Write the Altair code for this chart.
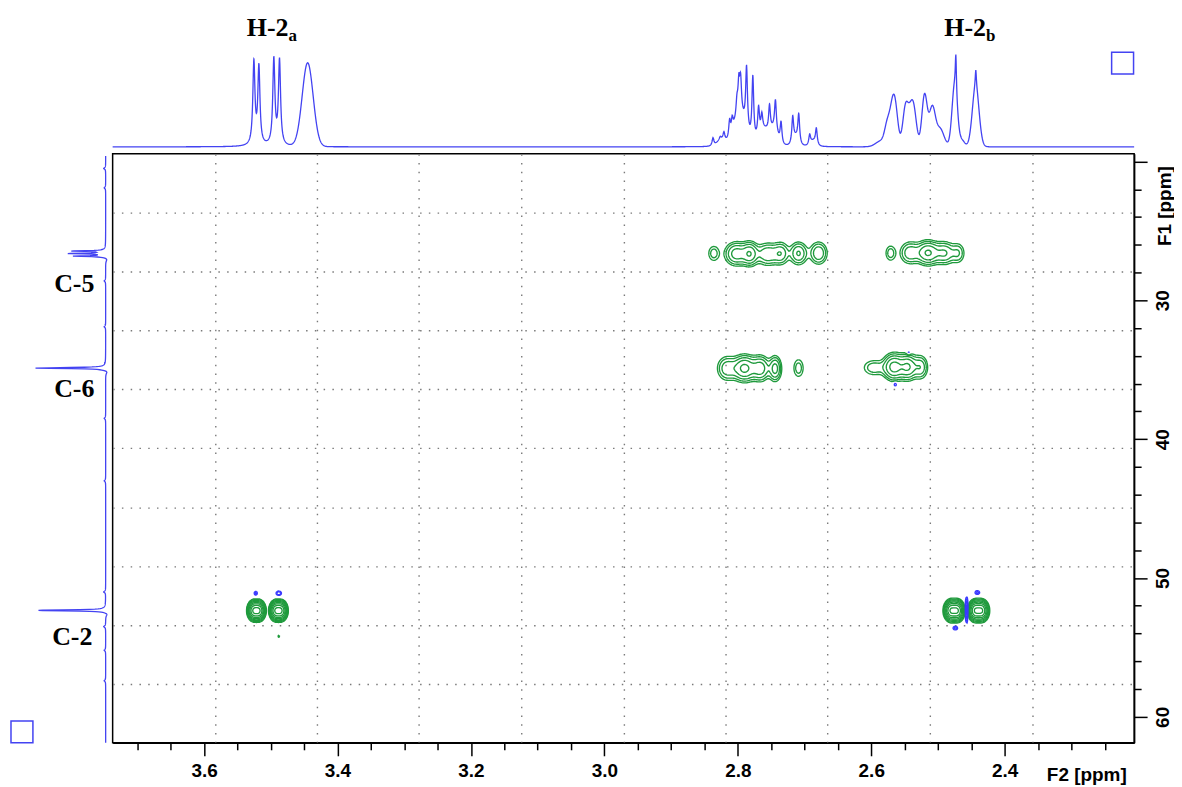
import numpy as np
import pandas as pd
import altair as alt

alt.data_transformers.disable_max_rows()

# ---------------- colours ----------------
SPEC_BLUE = "#4343f2"
POS_GREEN = "#1f9a3c"
NEG_BLUE = "#3a3aff"

# ---------------- axis ranges (ppm) ----------------
F2_LEFT, F2_RIGHT = 3.737, 2.206     # 1H (x), reversed
F1_TOP, F1_BOTTOM = 19.45, 61.87     # 13C (y), reversed

F2_MAJOR = [3.6, 3.4, 3.2, 3.0, 2.8, 2.6, 2.4]
F2_MINOR = [3.70, 3.65, 3.55, 3.50, 3.45, 3.35, 3.30, 3.25, 3.15, 3.10, 3.05,
            2.95, 2.90, 2.85, 2.75, 2.70, 2.65, 2.55, 2.50, 2.45, 2.35, 2.30, 2.25]
F1_MAJOR = [20, 30, 40, 50, 60]
F1_MINOR = [22, 24, 26, 28, 32, 34, 36, 38, 42, 44, 46, 48, 52, 54, 56, 58]

# ---------------- 1H projection (top) : peak list ----------------
TOP_LOR_PPM = [3.5253, 3.5178, 3.4954, 3.4869,
               2.8372, 2.8263, 2.8208, 2.8123, 2.8084, 2.8013, 2.7984, 2.7958, 2.7869,
               2.7775, 2.7689, 2.7640, 2.7525, 2.7436, 2.7352, 2.7177, 2.7087, 2.6923,
               2.6823, 2.4732, 2.4433]
TOP_LOR_H = [83, 78, 86, 85,
             8, 3, 8, 17, 13, 15, 30, 32, 62,
             64, 28, 16, 26, 30, 22, 26, 28, 10,
             16, 38, 17]
TOP_LOR_W = [0.0019, 0.0019, 0.0019, 0.0019,
             0.0016, 0.0016, 0.0016, 0.0016, 0.0016, 0.0016, 0.0016, 0.0016, 0.0016,
             0.0016, 0.0016, 0.0016, 0.0016, 0.0016, 0.0016, 0.0016, 0.0016, 0.0016,
             0.0016, 0.0010, 0.0010]
TOP_GAU_PPM = [3.4447, 2.8250, 2.7970, 2.7600, 2.7450, 2.7130, 2.6870,
               2.5850, 2.5758, 2.5683, 2.5634, 2.5485, 2.5410, 2.5360, 2.5201,
               2.5086, 2.4970, 2.4750, 2.4640, 2.4435]
TOP_GAU_H = [84, 6, 30, 16, 14, 8, 5,
             6, 20, 32, 30, 40, 22, 32, 52,
             38, 18, 60, 6, 60]
TOP_GAU_S = [0.0082, 0.006, 0.009, 0.008, 0.005, 0.004, 0.004,
             0.008, 0.004, 0.004, 0.004, 0.0042, 0.004, 0.0042, 0.004,
             0.0045, 0.006, 0.004, 0.004, 0.005]

# ---------------- 13C projection (left) : peak list ----------------
LEFT_PPM = [26.45, 26.63, 26.82, 34.88, 52.33,
            27.05, 35.15, 52.60,
            20.5, 21.9, 28.6, 31.9, 38.5, 43.0, 51.0, 53.5, 55.2, 57.4]
LEFT_H = [33, 36, 32, 71, 68,
          -2, -2.5, -2.5,
          2, 1.5, 1.5, 1.5, 1.5, 1.5, 2, 2, 1.5, 1.5]
LEFT_W = [0.035, 0.035, 0.035, 0.04, 0.04,
          0.15, 0.15, 0.15,
          0.06, 0.06, 0.06, 0.06, 0.06, 0.06, 0.06, 0.06, 0.06, 0.06]

# ---------------- HSQC cross peaks (dH, dC, amplitude, widths) ----------------
CP_H = [2.836, 2.802, 2.782, 2.755, 2.735, 2.709, 2.679,
        2.571, 2.542, 2.515, 2.490, 2.470,
        2.816, 2.790, 2.766, 2.744, 2.709,
        2.596, 2.566, 2.545, 2.526, 2.544, 2.564,
        3.5255, 3.5175, 3.4925, 3.4845, 3.488, 3.5225, 3.488,
        2.4805, 2.4710, 2.4440, 2.4345, 2.457, 2.441, 2.474]
CP_C = [26.62, 26.65, 26.65, 26.68, 26.62, 26.62, 26.60,
        26.60, 26.58, 26.58, 26.60, 26.60,
        34.90, 34.90, 34.90, 34.92, 34.88,
        34.85, 34.80, 34.80, 34.82, 33.75, 36.05,
        52.35, 52.35, 52.35, 52.35, 54.20, 51.10, 51.10,
        52.35, 52.35, 52.35, 52.35, 52.30, 51.05, 53.60]
CP_AMP = [0.13, 0.32, 0.36, 0.24, 0.20, 0.26, 0.24,
          0.13, 0.22, 0.42, 0.25, 0.15,
          0.22, 0.45, 0.32, 0.30, 0.13,
          0.14, 0.48, 0.40, 0.22, -0.12, -0.12,
          1.6, 1.6, 1.6, 1.6, 0.08, -0.12, -0.15,
          1.6, 1.6, 1.6, 1.6, -0.40, -0.12, -0.12]
CP_SH = [0.006, 0.010, 0.007, 0.011, 0.007, 0.0078, 0.0078,
         0.0055, 0.009, 0.010, 0.009, 0.0065,
         0.009, 0.010, 0.008, 0.0055, 0.0055,
         0.011, 0.009, 0.008, 0.0065, 0.002, 0.002,
         0.0042, 0.0042, 0.0042, 0.0042, 0.0015, 0.002, 0.003,
         0.0047, 0.0047, 0.0047, 0.0047, 0.0012, 0.003, 0.003]
CP_SC = [0.40, 0.48, 0.48, 0.48, 0.48, 0.48, 0.48,
         0.40, 0.48, 0.48, 0.48, 0.46,
         0.52, 0.52, 0.52, 0.52, 0.48,
         0.38, 0.52, 0.52, 0.50, 0.12, 0.12,
         0.32, 0.32, 0.32, 0.32, 0.10, 0.12, 0.12,
         0.34, 0.34, 0.34, 0.34, 0.50, 0.12, 0.12]

# ---------------- annotations ----------------
H_LABEL_TEXT = ["H-2", "H-2"]
H_LABEL_SUB = ["a", "b"]
H_LABEL_PPM = [3.4734, 2.4280]
H_LABEL_U = [111, 111]
H_SUB_U = [106, 106]

C_LABEL_TEXT = ["C-5", "C-6", "C-2"]
C_LABEL_V = [31.5, 31.5, 33.5]
C_LABEL_PPM = [29.43, 36.96, 54.84]

TOP_BOX_PPM, TOP_BOX_U = [2.2233], [84]
LEFT_BOX_V, LEFT_BOX_PPM = [84], [61.08]

# ================= build data =================
# 1D top spectrum
hx = np.unique(np.concatenate([np.arange(F2_RIGHT, F2_LEFT, 0.0004), TOP_LOR_PPM, [F2_LEFT]]))
hy = np.zeros_like(hx)
for p, h, w in zip(TOP_LOR_PPM, TOP_LOR_H, TOP_LOR_W):
    hy += h / (1 + ((hx - p) / w) ** 2)
for p, h, s in zip(TOP_GAU_PPM, TOP_GAU_H, TOP_GAU_S):
    hy += h * np.exp(-0.5 * ((hx - p) / s) ** 2)
top_df = pd.DataFrame({"ppm": np.round(hx, 5), "u": np.round(hy, 3)})

# 1D left spectrum
cy = np.unique(np.concatenate([np.arange(F1_TOP + 0.15, F1_BOTTOM, 0.02), LEFT_PPM[:5]]))
cv = np.zeros_like(cy)
for p, h, w in zip(LEFT_PPM, LEFT_H, LEFT_W):
    cv += h / (1 + ((cy - p) / w) ** 2)
left_df = pd.DataFrame({"ppm": np.round(cy, 4), "v": np.round(cv, 3)})

# 2D surface + contours
DX, DY = 0.0015, 0.07
gx = np.arange(F2_RIGHT, F2_LEFT, DX)
gy = np.arange(F1_TOP, F1_BOTTOM, DY)
Z = np.zeros((gy.size, gx.size))
for h, c, a, sh, sc in zip(CP_H, CP_C, CP_AMP, CP_SH, CP_SC):
    Z += a * np.outer(np.exp(-0.5 * ((gy - c) / sc) ** 2), np.exp(-0.5 * ((gx - h) / sh) ** 2))

SEGS = {1: [(0, 3)], 2: [(0, 1)], 3: [(1, 3)], 4: [(1, 2)], 5: [(0, 3), (1, 2)],
        6: [(0, 2)], 7: [(2, 3)], 8: [(2, 3)], 9: [(0, 2)], 10: [(0, 1), (2, 3)],
        11: [(1, 2)], 12: [(1, 3)], 13: [(0, 1)], 14: [(0, 3)]}


def trace(Zs, lev):
    B = Zs >= lev
    case = B[:-1, :-1] * 1 + B[:-1, 1:] * 2 + B[1:, 1:] * 4 + B[1:, :-1] * 8
    adj = {}
    for i, j in np.argwhere((case > 0) & (case < 15)):
        i, j = int(i), int(j)
        keys = (("h", i, j), ("v", i, j + 1), ("h", i + 1, j), ("v", i, j))
        for a, b in SEGS[int(case[i, j])]:
            adj.setdefault(keys[a], []).append(keys[b])
            adj.setdefault(keys[b], []).append(keys[a])

    def point(k):
        t, i, j = k
        if t == "h":
            z0, z1 = Zs[i, j], Zs[i, j + 1]
            return i, j + (lev - z0) / (z1 - z0)
        z0, z1 = Zs[i, j], Zs[i + 1, j]
        return i + (lev - z0) / (z1 - z0), j

    seen, paths = set(), []
    for s in sorted(adj, key=lambda k: len(adj[k])):
        if s in seen:
            continue
        path, cur = [s], s
        seen.add(s)
        while True:
            nxt = [n for n in adj[cur] if n not in seen]
            if not nxt:
                if len(path) > 2 and s in adj[cur]:
                    path.append(s)
                break
            cur = nxt[0]
            seen.add(cur)
            path.append(cur)
        paths.append([point(k) for k in path])
    return paths


LEVELS = [0.06 * 1.6 ** k for k in range(10)]
rows = []
cid = 0
for sign, surf in (("pos", Z), ("neg", -Z)):
    for lev in LEVELS:
        if surf.max() < lev:
            continue
        for path in trace(surf, lev):
            for k, (i, j) in enumerate(path):
                rows.append((cid, k, round(gx[0] + j * DX, 5), round(gy[0] + i * DY, 4), sign))
            cid += 1
cont_df = pd.DataFrame(rows, columns=["cid", "k", "h", "c", "sign"])

cp_df = pd.DataFrame({"h": CP_H, "c": CP_C})

# ================= scales =================
XS = alt.Scale(domain=[F2_RIGHT, F2_LEFT], reverse=True, nice=False, zero=False)
YS = alt.Scale(domain=[F1_TOP, F1_BOTTOM], reverse=True, nice=False, zero=False)
TOPY = alt.Scale(domain=[0, 100], range=[-7, -107], nice=False, zero=False)
LEFTX = alt.Scale(domain=[0, 100], range=[-7, -107], nice=False, zero=False)

GRID_X = [F2_LEFT + (F2_RIGHT - F2_LEFT) * k / 10 for k in range(1, 10)]
GRID_Y = [F1_TOP + (F1_BOTTOM - F1_TOP) * k / 10 for k in range(1, 10)]

SANS = "Liberation Sans"
SERIF = "Liberation Serif"

anchor = alt.Chart(cp_df).mark_point(opacity=0)

grid_layer = anchor.encode(
    x=alt.X("h:Q", scale=XS, axis=alt.Axis(orient="bottom", values=GRID_X, grid=True, gridDash=[1.5, 7.3],
                                           gridColor="#7a7a7a", gridWidth=1.4, ticks=False, labels=False,
                                           domain=False, title=None)),
    y=alt.Y("c:Q", scale=YS, axis=alt.Axis(orient="right", values=GRID_Y, grid=True, gridDash=[1.5, 7.3],
                                           gridColor="#7a7a7a", gridWidth=1.4, ticks=False, labels=False,
                                           domain=False, title=None)),
)

minor_layer = anchor.encode(
    x=alt.X("h:Q", scale=XS, axis=alt.Axis(orient="bottom", values=F2_MINOR, grid=False, tickSize=7,
                                           tickWidth=1.5, tickColor="black", labels=False, domain=False,
                                           title=None)),
    y=alt.Y("c:Q", scale=YS, axis=alt.Axis(orient="right", values=F1_MINOR, grid=False, tickSize=7,
                                           tickWidth=1.5, tickColor="black", labels=False, domain=False,
                                           title=None)),
)

major_layer = anchor.encode(
    x=alt.X("h:Q", scale=XS, axis=alt.Axis(
        orient="bottom", values=F2_MAJOR, format=".1f", grid=False, tickSize=13, tickWidth=1.5,
        tickColor="black", domain=True, domainColor="black", domainWidth=1.5,
        labelFont=SANS, labelFontSize=19, labelFontWeight="bold", labelColor="black",
        labelPadding=6, labelFlush=False, labelOverlap=False, labelBaseline="top",
        title="F2 [ppm]", titleFont=SANS, titleFontSize=19, titleFontWeight="bold", titleColor="black",
        titleX=977, titleY=38, titleAlign="center", titleBaseline="alphabetic")),
    y=alt.Y("c:Q", scale=YS, axis=alt.Axis(
        orient="right", values=F1_MAJOR, grid=False, tickSize=13, tickWidth=1.5,
        tickColor="black", domain=True, domainColor="black", domainWidth=1.5,
        labelFont=SANS, labelFontSize=19, labelFontWeight="bold", labelColor="black",
        labelAngle=270, labelAlign="center", labelBaseline="top", labelPadding=6,
        labelFlush=False, labelOverlap=False,
        labelExpr="datum.value == 20 ? '' : datum.label",
        title="F1 [ppm]", titleFont=SANS, titleFontSize=19, titleFontWeight="bold", titleColor="black",
        titleAngle=270, titleX=30, titleY=52, titleAlign="center", titleBaseline="middle")),
)

contour_layer = alt.Chart(cont_df).mark_line(strokeWidth=1.35).encode(
    x=alt.X("h:Q", scale=XS, axis=None),
    y=alt.Y("c:Q", scale=YS, axis=None),
    detail="cid:N",
    order="k:Q",
    color=alt.Color("sign:N", scale=alt.Scale(domain=["pos", "neg"], range=[POS_GREEN, NEG_BLUE]), legend=None),
)

top_layer = alt.Chart(top_df).mark_line(color=SPEC_BLUE, strokeWidth=1.3).encode(
    x=alt.X("ppm:Q", scale=XS, axis=None),
    y=alt.Y("u:Q", scale=TOPY, axis=None),
    order="ppm:Q",
)

left_layer = alt.Chart(left_df).mark_line(color=SPEC_BLUE, strokeWidth=1.3).encode(
    x=alt.X("v:Q", scale=LEFTX, axis=None),
    y=alt.Y("ppm:Q", scale=YS, axis=None),
    order="ppm:Q",
)

hlab_df = pd.DataFrame({"t": H_LABEL_TEXT, "s": H_LABEL_SUB, "ppm": H_LABEL_PPM, "u": H_LABEL_U, "us": H_SUB_U})
hlab_layer = alt.Chart(hlab_df).mark_text(font=SERIF, fontSize=26, fontWeight="bold", color="black",
                                          align="right", baseline="alphabetic").encode(
    x=alt.X("ppm:Q", scale=XS, axis=None),
    y=alt.Y("u:Q", scale=TOPY, axis=None),
    text="t:N",
)
hsub_layer = alt.Chart(hlab_df).mark_text(font=SERIF, fontSize=17, fontWeight="bold", color="black",
                                          align="left", baseline="alphabetic").encode(
    x=alt.X("ppm:Q", scale=XS, axis=None),
    y=alt.Y("us:Q", scale=TOPY, axis=None),
    text="s:N",
)

clab_df = pd.DataFrame({"t": C_LABEL_TEXT, "v": C_LABEL_V, "ppm": C_LABEL_PPM})
clab_layer = alt.Chart(clab_df).mark_text(font=SERIF, fontSize=26, fontWeight="bold", color="black",
                                          align="center", baseline="alphabetic").encode(
    x=alt.X("v:Q", scale=LEFTX, axis=None),
    y=alt.Y("ppm:Q", scale=YS, axis=None),
    text="t:N",
)

tbox_df = pd.DataFrame({"ppm": TOP_BOX_PPM, "u": TOP_BOX_U})
tbox_layer = alt.Chart(tbox_df).mark_point(shape="square", size=484, filled=False, color=SPEC_BLUE,
                                           strokeWidth=1.5, opacity=1).encode(
    x=alt.X("ppm:Q", scale=XS, axis=None),
    y=alt.Y("u:Q", scale=TOPY, axis=None),
)
lbox_df = pd.DataFrame({"v": LEFT_BOX_V, "ppm": LEFT_BOX_PPM})
lbox_layer = alt.Chart(lbox_df).mark_point(shape="square", size=484, filled=False, color=SPEC_BLUE,
                                           strokeWidth=1.5, opacity=1).encode(
    x=alt.X("v:Q", scale=LEFTX, axis=None),
    y=alt.Y("ppm:Q", scale=YS, axis=None),
)

chart = alt.layer(
    grid_layer, contour_layer, top_layer, left_layer, hlab_layer, hsub_layer, clab_layer,
    tbox_layer, lbox_layer, minor_layer, major_layer,
).resolve_scale(
    x="independent", y="independent"
).properties(
    width=1025, height=591,
    autosize=alt.AutoSizeParams(type="none"),
    padding={"left": 105, "top": 145, "right": 40, "bottom": 43},
    background="white",
).configure_view(
    stroke="black", strokeWidth=1.5
)

chart.save("out.html", embed_options={"renderer": "svg", "actions": False})
